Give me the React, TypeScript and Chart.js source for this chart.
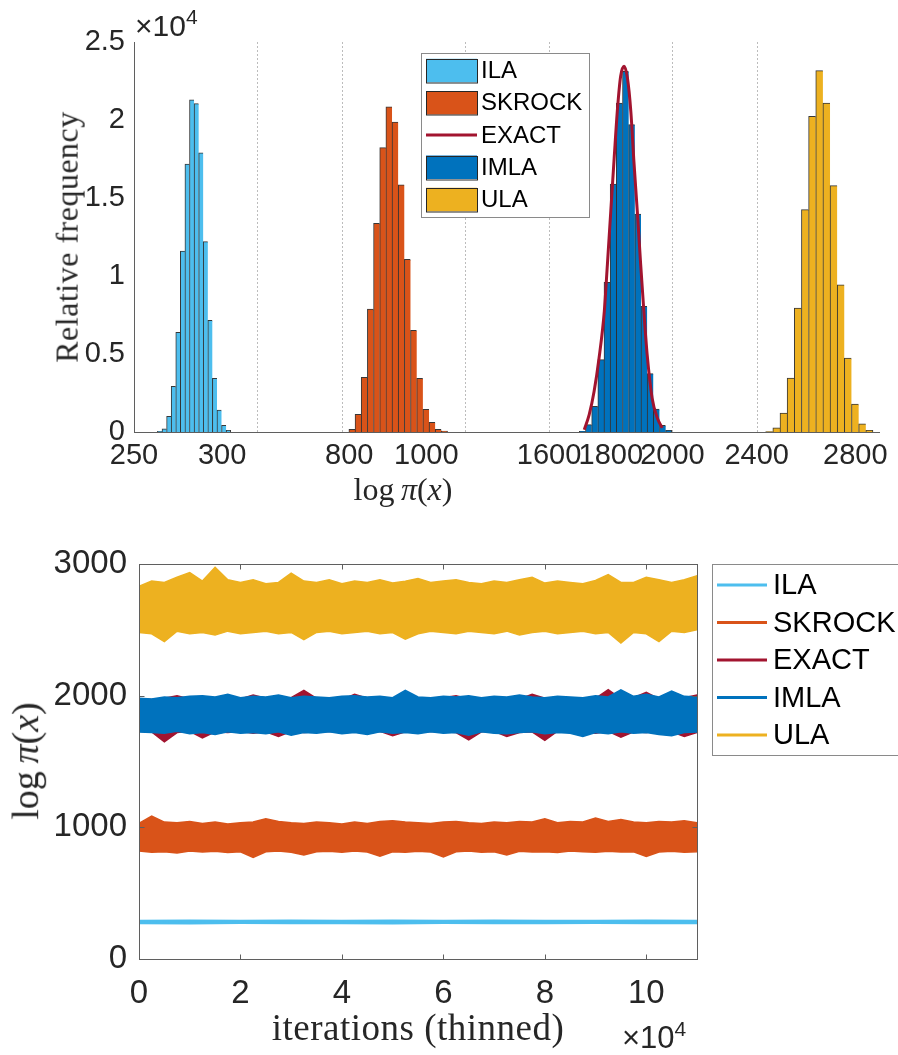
import React, { useEffect, useRef } from 'react';
import { Chart, registerables, LinearScale } from 'chart.js';

Chart.register(...registerables);

// ---------------- top panel: histograms on a broken x axis ----------------
const X_SEGMENTS = [[250, 320], [780, 1100], [1600, 2000], [2400, 2900]];
const GAP_RATIO = 0.683;
const X_TICKS_TOP = [250, 300, 800, 1000, 1600, 1800, 2000, 2400, 2800];
const Y_TICKS_TOP = [0, 5000, 10000, 15000, 20000, 25000];

const ILA_BINS = [264.6, 267.2, 269.8, 272.4, 275.0, 277.6, 280.2, 282.8, 285.4, 288.0, 290.6, 293.2, 295.8, 298.4, 301.0, 303.6];
const ILA_COUNTS = [40, 210, 1000, 2930, 6390, 11600, 17180, 21300, 21050, 17900, 12200, 7160, 3440, 1410, 430, 110];

const SKROCK_BINS = [807, 823, 839, 855, 871, 887, 903, 919, 935, 951, 967, 983, 999, 1015, 1031, 1047];
const SKROCK_COUNTS = [170, 1130, 3500, 7880, 13380, 18230, 20850, 19870, 15850, 11070, 6520, 3440, 1450, 620, 170, 60];

const IMLA_BINS = [1708, 1728, 1748, 1768, 1788, 1808, 1828, 1848, 1868, 1888, 1908, 1928, 1948, 1968, 1988];
const IMLA_COUNTS = [40, 470, 1650, 4640, 9590, 15900, 21090, 23120, 19700, 13970, 8060, 3740, 1470, 430, 110];

const ULA_BINS = [2451, 2480, 2509, 2538, 2567, 2596, 2625, 2654, 2683, 2712, 2741, 2770, 2799, 2828, 2857];
const ULA_COUNTS = [30, 260, 1220, 3460, 7950, 14250, 20240, 23160, 21090, 15790, 9440, 4740, 1790, 530, 110];

const EXACT_X = [1714, 1730, 1746, 1762, 1779, 1789, 1800, 1811, 1822, 1832, 1843, 1854, 1865, 1875, 1886, 1897, 1908, 1918, 1934, 1951, 1967];
const EXACT_Y = [150, 1110, 2610, 4740, 7740, 10730, 14150, 17560, 20770, 22800, 23440, 22690, 20560, 17350, 14150, 10730, 7520, 4960, 2180, 900, 260];

// ---------------- bottom panel: trace envelopes ----------------
const ITER = [0, 2500, 5000, 7500, 10000, 12500, 15000, 17500, 20000, 22500, 25000, 27500, 30000, 32500, 35000, 37500, 40000, 42500, 45000, 47500, 50000, 52500, 55000, 57500, 60000, 62500, 65000, 67500, 70000, 72500, 75000, 77500, 80000, 82500, 85000, 87500, 90000, 92500, 95000, 97500, 100000, 102500, 105000, 107500, 110000];

const ULA_HI = [2830, 2870, 2860, 2900, 2935, 2870, 2975, 2880, 2860, 2880, 2850, 2860, 2930, 2870, 2860, 2880, 2850, 2870, 2860, 2880, 2855, 2870, 2890, 2860, 2870, 2880, 2860, 2850, 2870, 2860, 2880, 2900, 2855, 2870, 2860, 2850, 2875, 2920, 2860, 2860, 2900, 2880, 2860, 2880, 2910];
const ULA_LO = [2480, 2470, 2410, 2490, 2470, 2480, 2460, 2490, 2470, 2480, 2490, 2470, 2480, 2425, 2480, 2490, 2470, 2480, 2490, 2470, 2480, 2430, 2470, 2490, 2480, 2470, 2490, 2480, 2470, 2490, 2460, 2480, 2490, 2470, 2480, 2490, 2470, 2480, 2400, 2480, 2470, 2410, 2490, 2480, 2500];

const IMLA_HI = [1980, 1975, 1990, 1985, 1995, 2000, 1990, 2010, 1985, 1995, 1990, 2005, 1985, 1995, 1990, 1985, 1995, 2000, 1990, 1995, 1985, 2040, 1990, 1985, 1995, 1990, 2000, 1985, 1995, 1990, 2005, 1990, 1985, 1995, 1990, 1985, 2000, 1990, 2045, 1995, 2010, 1990, 2035, 1995, 1990];
const IMLA_LO = [1725, 1720, 1715, 1730, 1710, 1720, 1705, 1725, 1715, 1720, 1710, 1725, 1700, 1720, 1715, 1725, 1710, 1720, 1705, 1725, 1715, 1720, 1710, 1725, 1715, 1720, 1700, 1725, 1715, 1710, 1720, 1725, 1710, 1720, 1715, 1690, 1720, 1710, 1725, 1715, 1720, 1705, 1695, 1720, 1725];

const EXACT_HI = [1975, 1970, 1980, 2000, 1975, 1985, 1970, 1990, 1975, 2005, 1980, 1975, 1985, 2040, 1980, 1975, 1970, 2010, 1980, 1975, 1985, 1970, 1980, 1975, 1985, 2000, 1975, 1980, 1970, 1985, 1975, 2010, 1980, 1975, 1985, 1970, 1980, 2045, 1975, 1985, 2025, 1975, 1980, 1985, 2005];
const EXACT_LO = [1730, 1725, 1650, 1720, 1730, 1680, 1725, 1720, 1730, 1715, 1725, 1690, 1730, 1720, 1725, 1730, 1720, 1725, 1715, 1730, 1695, 1725, 1720, 1730, 1725, 1720, 1665, 1725, 1730, 1690, 1720, 1725, 1660, 1730, 1720, 1725, 1715, 1730, 1685, 1725, 1720, 1730, 1725, 1690, 1720];

const SKROCK_HI = [1030, 1085, 1040, 1035, 1045, 1030, 1040, 1025, 1035, 1040, 1065, 1045, 1035, 1030, 1040, 1035, 1025, 1040, 1030, 1045, 1050, 1040, 1035, 1030, 1040, 1045, 1035, 1030, 1040, 1035, 1045, 1040, 1065, 1035, 1045, 1040, 1070, 1045, 1060, 1040, 1035, 1045, 1040, 1050, 1035];
const SKROCK_LO = [820, 810, 815, 805, 820, 812, 818, 808, 815, 772, 815, 820, 810, 790, 815, 818, 810, 820, 812, 780, 815, 810, 818, 812, 775, 815, 820, 810, 815, 790, 818, 812, 815, 808, 820, 815, 810, 818, 812, 815, 778, 812, 818, 810, 815];

const ILA_ITER = [0, 10000, 20000, 30000, 40000, 50000, 60000, 70000, 80000, 90000, 100000, 110000];
const ILA_HI = [293, 295, 292, 294, 293, 295, 292, 294, 293, 292, 294, 293];
const ILA_LO = [270, 268, 271, 269, 270, 268, 271, 270, 269, 271, 270, 269];

const X_TICKS_BOT = [0, 20000, 40000, 60000, 80000, 100000];
const Y_TICKS_BOT = [0, 1000, 2000, 3000];

const LABELS = ['ILA', 'SKROCK', 'EXACT', 'IMLA', 'ULA'];
const COLORS = ['#4DBEEE', '#D95319', '#A2142F', '#0072BD', '#EDB120'];

const SANS = "'Liberation Sans', Arial, Helvetica, sans-serif";
const SERIF = "'Liberation Serif', 'Times New Roman', serif";
const AXIS = '#5f5f5f';
const TEXT = '#262626';

class BrokenLinearScale extends (LinearScale as any) {
  static id = 'brokenLinear';
  static defaults = (LinearScale as any).defaults;
  getPixelForValue(value: number) {
    if (value === null || value === undefined || Number.isNaN(+value)) return NaN;
    const n = X_SEGMENTS.length;
    const segW = this.width / (n + (n - 1) * GAP_RATIO);
    let i = 0;
    while (i < n - 1 && value > (X_SEGMENTS[i][1] + X_SEGMENTS[i + 1][0]) / 2) i++;
    const [a, b] = X_SEGMENTS[i];
    return this.left + i * segW * (1 + GAP_RATIO) + ((value - a) / (b - a)) * segW;
  }
  getValueForPixel(pixel: number) {
    const n = X_SEGMENTS.length;
    const segW = this.width / (n + (n - 1) * GAP_RATIO);
    const step = segW * (1 + GAP_RATIO);
    const rel = pixel - this.left;
    const i = Math.min(n - 1, Math.max(0, Math.floor(rel / step)));
    const [a, b] = X_SEGMENTS[i];
    return a + ((rel - i * step) / segW) * (b - a);
  }
}
Chart.register(BrokenLinearScale as any);

function barSet(label: string, color: string, bins: number[], counts: number[], axis: string) {
  const n = bins.length;
  return {
    type: 'bar' as const,
    label,
    data: bins.map((x, i) => ({ x, y: counts[i] })),
    backgroundColor: color,
    borderColor: 'rgba(20,20,20,0.85)',
    borderWidth: (c: any) => ({ top: 1, left: 1, bottom: 0, right: c.dataIndex === n - 1 ? 1 : 0 }),
    borderSkipped: false,
    barPercentage: 1,
    categoryPercentage: 1,
    grouped: false,
    xAxisID: axis,
    order: 1,
  };
}

function band(label: string, color: string, xs: number[], hi: number[], lo: number[], order: number) {
  const top = xs.map((x, i) => ({ x, y: hi[i] }));
  const bottom = xs.map((x, i) => ({ x, y: lo[i] })).reverse();
  return {
    label,
    data: [...top, ...bottom],
    borderColor: color,
    backgroundColor: color,
    borderWidth: 1.5,
    pointRadius: 0,
    tension: 0,
    fill: 'shape',
    order,
  };
}

function drawLegend(chart: any, x: number, y: number, w: number, h: number, rowY0: number, rowGap: number,
  swX: number, swW: number, swH: number, textX: number, fontSize: number, allLines: boolean) {
  const ctx = chart.ctx;
  ctx.save();
  ctx.fillStyle = '#ffffff';
  ctx.fillRect(x, y, w, h);
  ctx.strokeStyle = '#8a8a8a';
  ctx.lineWidth = 1;
  ctx.strokeRect(Math.round(x) + 0.5, Math.round(y) + 0.5, w, h);
  chart.data.datasets.forEach((ds: any, i: number) => {
    const cy = y + rowY0 + i * rowGap;
    const isLine = allLines || ds.type === 'line';
    if (isLine) {
      ctx.strokeStyle = ds.borderColor;
      ctx.lineWidth = 3;
      ctx.beginPath();
      ctx.moveTo(x + swX, cy);
      ctx.lineTo(x + swX + swW, cy);
      ctx.stroke();
    } else {
      ctx.fillStyle = ds.backgroundColor;
      ctx.fillRect(x + swX, cy - swH / 2, swW, swH);
      ctx.strokeStyle = '#262626';
      ctx.lineWidth = 1;
      ctx.strokeRect(Math.round(x + swX) + 0.5, Math.round(cy - swH / 2) + 0.5, swW, swH);
    }
    ctx.fillStyle = '#000000';
    ctx.font = `${fontSize}px ${SANS}`;
    ctx.textBaseline = 'middle';
    ctx.textAlign = 'left';
    ctx.fillText(ds.label, x + textX, cy + 1);
  });
  ctx.restore();
}

const topDecor = {
  id: 'topDecor',
  beforeDatasetsDraw(chart: any) {
    const { ctx, chartArea: ca } = chart;
    const sx = chart.scales.x;
    ctx.save();
    ctx.strokeStyle = '#bcbcbc';
    ctx.lineWidth = 1;
    ctx.setLineDash([2, 2]);
    for (let i = 0; i < X_SEGMENTS.length - 1; i++) {
      for (const v of [X_SEGMENTS[i][1], X_SEGMENTS[i + 1][0]]) {
        const px = Math.round(sx.getPixelForValue(v)) + 0.5;
        ctx.beginPath();
        ctx.moveTo(px, ca.top);
        ctx.lineTo(px, ca.bottom);
        ctx.stroke();
      }
    }
    ctx.restore();
  },
  afterDatasetsDraw(chart: any) {
    const { ctx, chartArea: ca } = chart;
    ctx.save();
    ctx.strokeStyle = AXIS;
    ctx.lineWidth = 1;
    ctx.beginPath();
    ctx.moveTo(Math.round(ca.left) + 0.5, ca.top);
    ctx.lineTo(Math.round(ca.left) + 0.5, ca.bottom + 1);
    ctx.moveTo(ca.left, Math.round(ca.bottom) + 0.5);
    ctx.lineTo(ca.right, Math.round(ca.bottom) + 0.5);
    ctx.stroke();
    ctx.restore();
  },
  afterDraw(chart: any) {
    const ca = chart.chartArea;
    drawLegend(chart, ca.left + 287, ca.top + 11, 168, 164, 17.5, 32.25, 5, 51, 23.5, 60, 24, false);
  },
};

const botDecor = {
  id: 'botDecor',
  afterDraw(chart: any) {
    const { ctx, chartArea: ca } = chart;
    const sx = chart.scales.x;
    const sy = chart.scales.y;
    ctx.save();
    ctx.strokeStyle = AXIS;
    ctx.lineWidth = 1;
    const l = Math.round(ca.left) + 0.5, r = Math.round(ca.right) + 0.5;
    const t = Math.round(ca.top) + 0.5, b = Math.round(ca.bottom) + 0.5;
    ctx.strokeRect(l, t, r - l, b - t);
    ctx.beginPath();
    const tl = 5;
    X_TICKS_BOT.forEach((v) => {
      const px = Math.round(sx.getPixelForValue(v)) + 0.5;
      ctx.moveTo(px, b); ctx.lineTo(px, b - tl);
      ctx.moveTo(px, t); ctx.lineTo(px, t + tl);
    });
    Y_TICKS_BOT.forEach((v) => {
      const py = Math.round(sy.getPixelForValue(v)) + 0.5;
      ctx.moveTo(l, py); ctx.lineTo(l + tl, py);
      ctx.moveTo(r, py); ctx.lineTo(r - tl, py);
    });
    ctx.stroke();
    ctx.restore();
    drawLegend(chart, ca.right + 15, ca.top, 200, 191, 21, 37.5, 5, 50, 0, 61, 29, true);
  },
};

export default function App() {
  const topRef = useRef<HTMLCanvasElement>(null);
  const botRef = useRef<HTMLCanvasElement>(null);

  useEffect(() => {
    const tickFontTop = { family: SANS, size: 29 };
    const hiddenX = () => ({
      type: 'brokenLinear', display: false, min: 250, max: 2900,
      afterBuildTicks: (s: any) => { s.ticks = X_TICKS_TOP.map((v) => ({ value: v })); },
    });
    const top = new Chart(topRef.current as HTMLCanvasElement, {
      type: 'bar',
      data: {
        datasets: [
          barSet(LABELS[0], COLORS[0], ILA_BINS, ILA_COUNTS, 'x'),
          barSet(LABELS[1], COLORS[1], SKROCK_BINS, SKROCK_COUNTS, 'x2'),
          {
            type: 'line', label: LABELS[2],
            data: EXACT_X.map((x, i) => ({ x, y: EXACT_Y[i] })),
            borderColor: COLORS[2], borderWidth: 3, pointRadius: 0, fill: false,
            cubicInterpolationMode: 'monotone', xAxisID: 'x3', order: 0,
          },
          barSet(LABELS[3], COLORS[3], IMLA_BINS, IMLA_COUNTS, 'x3'),
          barSet(LABELS[4], COLORS[4], ULA_BINS, ULA_COUNTS, 'x4'),
        ] as any,
      },
      options: {
        responsive: false,
        animation: false,
        devicePixelRatio: 1,
        layout: { padding: { top: 42, right: 18, left: 0, bottom: 0 } },
        plugins: { legend: { display: false }, tooltip: { enabled: false } },
        scales: {
          x: {
            type: 'brokenLinear', position: 'bottom', min: 250, max: 2900,
            grid: { display: false, drawTicks: false }, border: { display: false },
            ticks: { autoSkip: false, maxRotation: 0, padding: 7, color: TEXT, font: tickFontTop, callback: (v: any) => String(v) },
            afterBuildTicks: (s: any) => { s.ticks = X_TICKS_TOP.map((v) => ({ value: v })); },
            afterFit: (s: any) => { s.height = 58; },
          },
          x2: hiddenX(),
          x3: hiddenX(),
          x4: hiddenX(),
          y: {
            type: 'linear', min: 0, max: 25000,
            grid: { display: false, drawTicks: false }, border: { display: false },
            ticks: { padding: 9, color: TEXT, font: tickFontTop, callback: (v: any) => String(Number(v) / 10000) },
            afterBuildTicks: (s: any) => { s.ticks = Y_TICKS_TOP.map((v) => ({ value: v })); },
            afterFit: (s: any) => { s.width = 134; },
          },
        } as any,
      },
      plugins: [topDecor],
    } as any);

    const tickFontBot = { family: SANS, size: 33 };
    const bot = new Chart(botRef.current as HTMLCanvasElement, {
      type: 'line',
      data: {
        datasets: [
          band(LABELS[0], COLORS[0], ILA_ITER, ILA_HI, ILA_LO, 5),
          band(LABELS[1], COLORS[1], ITER, SKROCK_HI, SKROCK_LO, 4),
          band(LABELS[2], COLORS[2], ITER, EXACT_HI, EXACT_LO, 3),
          band(LABELS[3], COLORS[3], ITER, IMLA_HI, IMLA_LO, 2),
          band(LABELS[4], COLORS[4], ITER, ULA_HI, ULA_LO, 1),
        ] as any,
      },
      options: {
        responsive: false,
        animation: false,
        devicePixelRatio: 1,
        layout: { padding: { top: 44, right: 201, left: 0, bottom: 0 } },
        plugins: { legend: { display: false }, tooltip: { enabled: false } },
        scales: {
          x: {
            type: 'linear', min: 0, max: 110000,
            grid: { display: false, drawTicks: false }, border: { display: false },
            ticks: { autoSkip: false, maxRotation: 0, padding: 15, color: TEXT, font: tickFontBot, callback: (v: any) => String(Number(v) / 10000) },
            afterBuildTicks: (s: any) => { s.ticks = X_TICKS_BOT.map((v) => ({ value: v })); },
            afterFit: (s: any) => { s.height = 96; },
          },
          y: {
            type: 'linear', min: 0, max: 3000,
            grid: { display: false, drawTicks: false }, border: { display: false },
            ticks: { padding: 12, color: TEXT, font: tickFontBot, callback: (v: any) => String(v) },
            afterBuildTicks: (s: any) => { s.ticks = Y_TICKS_BOT.map((v) => ({ value: v })); },
            afterFit: (s: any) => { s.width = 139; },
          },
        } as any,
      },
      plugins: [botDecor],
    } as any);

    return () => { top.destroy(); bot.destroy(); };
  }, []);

  const centered = (x: number, y: number, rot: boolean): React.CSSProperties => ({
    position: 'absolute', left: x, top: y,
    transform: `translate(-50%, -50%)${rot ? ' rotate(-90deg)' : ''}`,
    whiteSpace: 'nowrap', lineHeight: 1.15, color: TEXT,
  });

  return (
    <div style={{ position: 'absolute', left: 0, top: 0, width: 898, height: 1055, background: '#ffffff', overflow: 'hidden' }}>
      <canvas ref={topRef} width={898} height={490} style={{ position: 'absolute', left: 0, top: 0, width: 898, height: 490 }} />
      <canvas ref={botRef} width={898} height={535} style={{ position: 'absolute', left: 0, top: 520, width: 898, height: 535 }} />

      <div style={{ position: 'absolute', left: 135, top: 11, fontFamily: SANS, fontSize: 30, lineHeight: '30px', color: TEXT, whiteSpace: 'nowrap' }}>
        ×10<span style={{ fontSize: 21, position: 'relative', top: -12 }}>4</span>
      </div>
      <div style={{ ...centered(67, 237, true), fontFamily: SERIF, fontSize: 32, letterSpacing: 0.5 }}>Relative frequency</div>
      <div style={{ ...centered(403, 489, false), fontFamily: SERIF, fontSize: 32 }}>log&#8201;<i>π</i>(<i>x</i>)</div>

      <div style={{ ...centered(26, 761, true), fontFamily: SERIF, fontSize: 38 }}>log&#8201;<i>π</i>(<i>x</i>)</div>
      <div style={{ ...centered(418, 1028, false), fontFamily: SERIF, fontSize: 37, letterSpacing: 0.5 }}>iterations (thinned)</div>
      <div style={{ position: 'absolute', left: 622, top: 1022, fontFamily: SANS, fontSize: 31, lineHeight: '31px', color: TEXT, whiteSpace: 'nowrap' }}>
        ×10<span style={{ fontSize: 21, position: 'relative', top: -12 }}>4</span>
      </div>
    </div>
  );
}
